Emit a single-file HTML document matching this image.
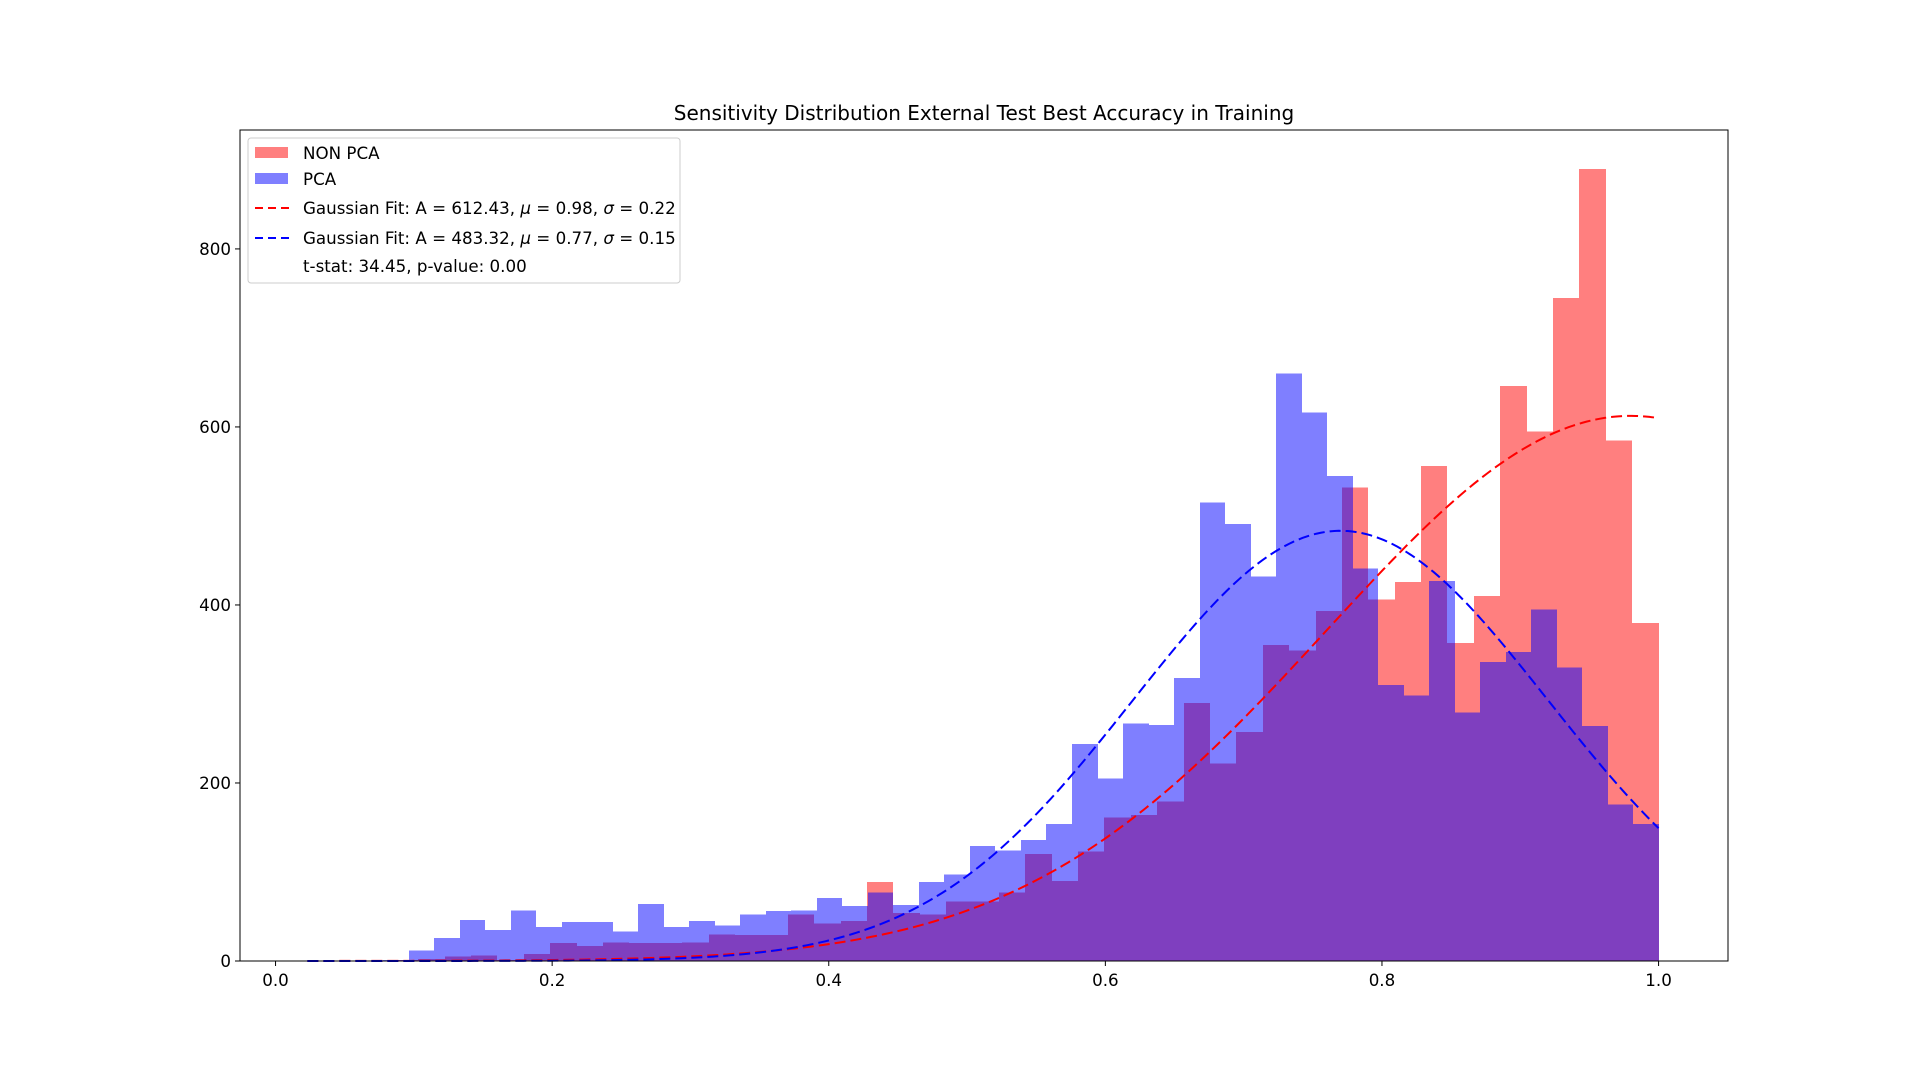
<!DOCTYPE html>
<html><head><meta charset="utf-8"><title>Sensitivity Distribution</title>
<style>
html,body{margin:0;padding:0;background:#fff;}
svg{display:block;font-family:"DejaVu Sans","Liberation Sans",sans-serif;}
</style></head>
<body>
<svg id="chart" width="1920" height="1080" viewBox="0 0 1920 1080" xmlns="http://www.w3.org/2000/svg">
  <rect x="0" y="0" width="1920" height="1080" fill="#fff"/>
  <text x="984" y="120" font-size="20" text-anchor="middle" fill="#000">Sensitivity Distribution External Test Best Accuracy in Training</text>
  <g id="bars-red" shape-rendering="crispEdges"></g>
  <g id="bars-blue" shape-rendering="crispEdges"></g>
  <g id="curves"></g>
  <g id="axes"></g>
  <g id="legend">
    <rect x="248" y="138" width="432" height="145" rx="3" fill="#fff" fill-opacity="0.8" stroke="#ccc" stroke-width="1"/>
    <rect x="255" y="147" width="33" height="11" fill="#ff0000" fill-opacity="0.5"/>
    <text x="303" y="159" font-size="16.7">NON PCA</text>
    <rect x="255" y="173" width="33" height="11" fill="#0000ff" fill-opacity="0.5"/>
    <text x="303" y="185" font-size="16.7">PCA</text>
    <line x1="255" y1="208" x2="289" y2="208" stroke="#f00" stroke-width="2" stroke-dasharray="8,5"/>
    <text x="303" y="214" font-size="16.7">Gaussian Fit: A = 612.43, <tspan font-style="italic">μ</tspan> = 0.98, <tspan font-style="italic">σ</tspan> = 0.22</text>
    <line x1="255" y1="238" x2="289" y2="238" stroke="#00f" stroke-width="2" stroke-dasharray="8,5"/>
    <text x="303" y="244" font-size="16.7">Gaussian Fit: A = 483.32, <tspan font-style="italic">μ</tspan> = 0.77, <tspan font-style="italic">σ</tspan> = 0.15</text>
    <text x="303" y="272" font-size="16.7">t-stat: 34.45, p-value: 0.00</text>
  </g>
</svg>
<script>
const redStart = 0.046, redWidth = 0.01908;
const redCounts = [0,0,1,2,5,6,1,8,20,17,21,20,20,21,30,29,29,52,42,45,89,54,52,67,67,77,120,90,123,161,164,179,290,222,257,355,349,393,532,406,426,556,357,410,646,595,745,890,585,380];
const blueStart = 0.078, blueWidth = 0.01844;
const blueCounts = [1,12,26,46,35,57,38,44,44,33,64,38,45,40,52,56,57,71,62,77,63,89,97,129,124,136,154,244,205,267,265,318,515,491,432,660,616,545,441,310,298,427,279,336,347,395,330,264,176,154];
const redFit = [612.43, 0.98, 0.22];
const blueFit = [483.32, 0.77, 0.15];
const xTicks = [0.0, 0.2, 0.4, 0.6, 0.8, 1.0];
const xTickLabels = ["0.0","0.2","0.4","0.6","0.8","1.0"];
const yTicks = [0, 200, 400, 600, 800];
const yTickLabels = ["0","200","400","600","800"];
const fitRange = [0.023, 1.0];

const L=240,R=1728,T=130,B=961;
const xMin=-0.0257,xMax=1.0502,yMax=933.6;
const sx=v=>L+(v-xMin)/(xMax-xMin)*(R-L);
const sy=v=>B-v/yMax*(B-T);
const NS="http://www.w3.org/2000/svg";
function mk(tag,attrs,parent){const e=document.createElementNS(NS,tag);for(const k in attrs)e.setAttribute(k,attrs[k]);parent.appendChild(e);return e;}

function drawBars(gid,start,w,counts,color,nm){
  const g=document.getElementById(gid);
  counts.forEach((c,i)=>{
    const x0=Math.round(sx(start+i*w)),x1=Math.round(sx(start+(i+1)*w));
    const r=mk('rect',{x:x0,y:sy(c),width:x1-x0,height:B-sy(c),fill:color,'fill-opacity':0.5},g);
    
    
  });
}
drawBars('bars-red',redStart,redWidth,redCounts,'#ff0000','non-pca');
drawBars('bars-blue',blueStart,blueWidth,blueCounts,'#0000ff','pca');

function drawFit(p,color,nm){
  const g=document.getElementById('curves');
  let d='';const n=300;
  for(let i=0;i<=n;i++){const x=fitRange[0]+(fitRange[1]-fitRange[0])*i/n;
    const y=p[0]*Math.exp(-((x-p[1])**2)/(2*p[2]*p[2]));
    d+=(i?'L':'M')+sx(x).toFixed(2)+','+sy(y).toFixed(2);}
  const e=mk('path',{d:d,fill:'none',stroke:color,'stroke-width':2,'stroke-dasharray':'11,5'},g);
  
  
}
drawFit(redFit,'#ff0000','non-pca-gaussian-fit');
drawFit(blueFit,'#0000ff','pca-gaussian-fit');

const ax=document.getElementById('axes');
const frame=mk('rect',{x:L,y:T,width:R-L,height:B-T,fill:'none',stroke:'#000','stroke-width':1},ax);


xTicks.forEach((t,i)=>{
  const x=sx(t);
  const tk=mk('line',{x1:x,y1:B,x2:x,y2:B+5,stroke:'#000','stroke-width':1},ax);
  
  
  const lb=mk('text',{x:x,y:B+25,'font-size':16.7,'text-anchor':'middle'},ax);
  lb.textContent=xTickLabels[i];
  
  
});
yTicks.forEach((t,i)=>{
  const y=sy(t);
  const tk=mk('line',{x1:L-5,y1:y,x2:L,y2:y,stroke:'#000','stroke-width':1},ax);
  
  
  const lb=mk('text',{x:L-9,y:y+6,'font-size':16.7,'text-anchor':'end'},ax);
  lb.textContent=yTickLabels[i];
  
  
});
</script>
</body></html>
